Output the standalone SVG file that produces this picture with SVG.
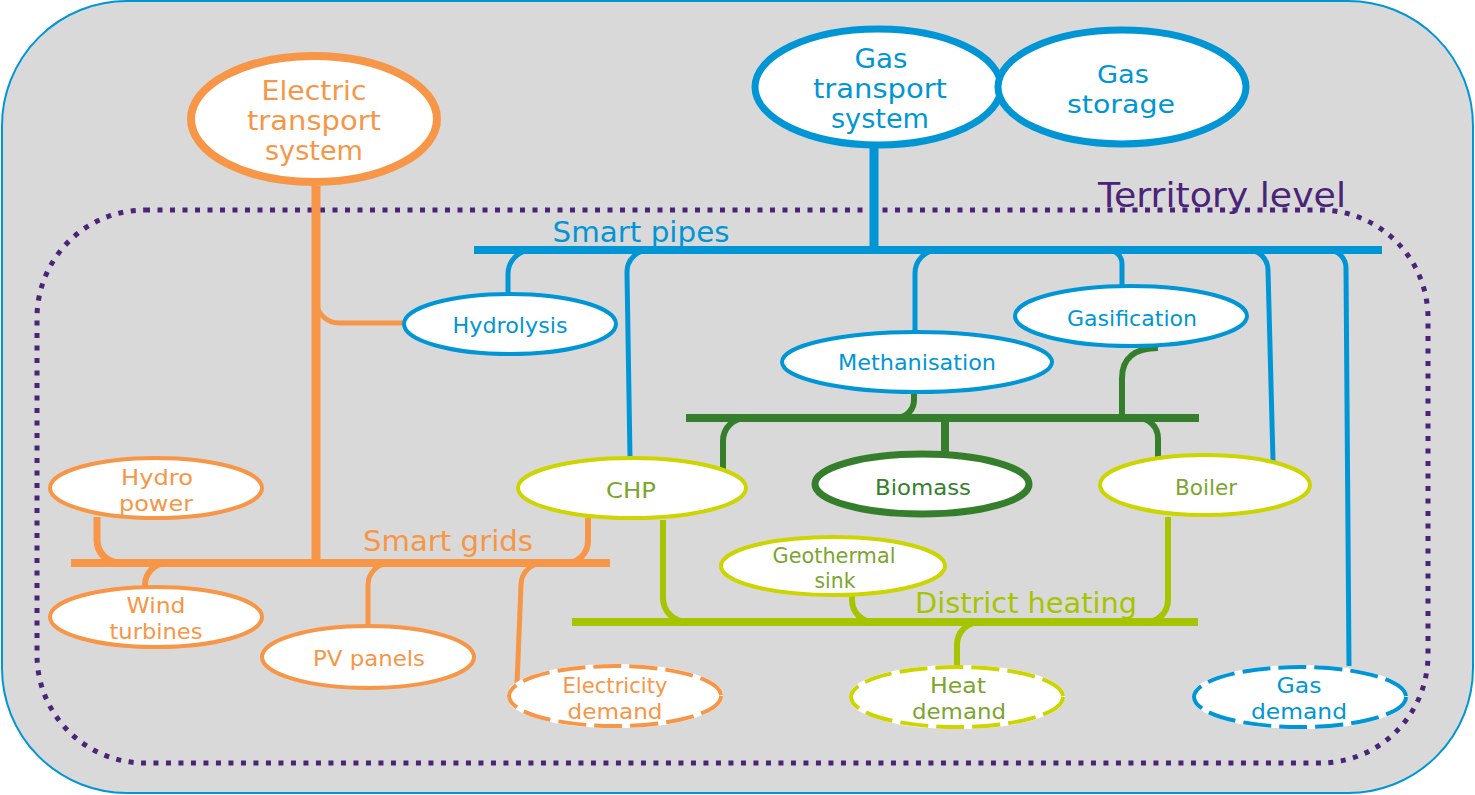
<svg xmlns="http://www.w3.org/2000/svg" width="1475" height="795" viewBox="0 0 1475 795">
<style>
text{font-family:"DejaVu Sans","Liberation Sans",sans-serif;text-anchor:middle;}
.or{fill:#F79646}.bl{fill:#0096D6}.dg{fill:#357F2C}.ol{fill:#7BA52D}.dh{fill:#A6C400}.pu{fill:#4B2479}
.c{fill:none;stroke-linecap:butt;stroke-linejoin:round}
.o{stroke:#F79646}.b{stroke:#0096D6}.g{stroke:#357F2C}.y{stroke:#A6C400}
.n{fill:#fff}
.no{stroke:#F79646;stroke-width:4}
.nb{stroke:#0096D6;stroke-width:4}
.ny{stroke:#CCD500;stroke-width:4}
.ws{fill:#fff;stroke:#fff;stroke-width:4}
.d{fill:none;stroke-width:4;stroke-dasharray:28 8}
</style>
<rect id="frame" x="2" y="1" width="1471" height="792" rx="125" ry="125" fill="#D9D9D9" stroke="#0096D6" stroke-width="2"/>
<g id="territory">
<rect x="37" y="210" width="1391" height="553" rx="108" ry="108" fill="none" stroke="#4B2479" stroke-width="5" stroke-dasharray="5 7.5"/>
<text class="pu" x="1222" y="207" font-size="33" textLength="248" lengthAdjust="spacingAndGlyphs">Territory level</text>
</g>
<g id="connectors">
<path class="c b" stroke-width="9" d="M874 146V250"/>
<path class="c b" stroke-width="8" d="M474 250H1382"/>
<path class="c b" stroke-width="5" d="M532 250A24 24 0 0 0 508 274V294"/>
<path class="c b" stroke-width="5" d="M650 250A22 22 0 0 0 627 273L630 458"/>
<path class="c b" stroke-width="5" d="M938 250A23 23 0 0 0 915 273V331"/>
<path class="c b" stroke-width="5" d="M1108 250A14 14 0 0 1 1122 264V286"/>
<path class="c b" stroke-width="5" d="M1248 250A20 20 0 0 1 1268 270L1273 461"/>
<path class="c b" stroke-width="5" d="M1328 250A18 18 0 0 1 1346 268L1349 666"/>
<path class="c o" stroke-width="9" d="M316 186V563"/>
<path class="c o" stroke-width="5" d="M316 300A23 23 0 0 0 339 323H404"/>
<path class="c o" stroke-width="8" d="M71 563H610"/>
<path class="c o" stroke-width="7" d="M97 517V540A23 23 0 0 0 120 563"/>
<path class="c o" stroke-width="6" d="M167 563A22 22 0 0 0 145 585V588"/>
<path class="c o" stroke-width="5" d="M390 563A22 22 0 0 0 368 585V626"/>
<path class="c o" stroke-width="6" d="M588 518V541A22 22 0 0 1 566 563"/>
<path class="c o" stroke-width="5" d="M543 563A22 22 0 0 0 521 585L517 684"/>
<path class="c g" stroke-width="8" d="M686 418H1199"/>
<path class="c g" stroke-width="6" d="M914 392V400A18 18 0 0 1 896 418"/>
<path class="c g" stroke-width="6" d="M1158 348C1135 348 1122 358 1122 378V418"/>
<path class="c g" stroke-width="8" d="M945 418V453"/>
<path class="c g" stroke-width="6" d="M1138 418A20 20 0 0 1 1158 438V458"/>
<path class="c g" stroke-width="6" d="M746 418A23 23 0 0 0 723 441V471"/>
<path class="c y" stroke-width="8" d="M572 622H1198"/>
<path class="c y" stroke-width="6" d="M663 520V598A24 24 0 0 0 687 622"/>
<path class="c y" stroke-width="6" d="M852 596V600A22 22 0 0 0 874 622"/>
<path class="c y" stroke-width="6" d="M1168 517V600A22 22 0 0 1 1146 622"/>
<path class="c y" stroke-width="6" d="M980 622A23 23 0 0 0 957 645V667"/>
</g>
<g id="electric-transport">
<ellipse class="n" cx="314" cy="119" rx="123" ry="63" stroke="#F79646" stroke-width="8"/>
<text class="or" x="314" y="100" font-size="26" textLength="105" lengthAdjust="spacingAndGlyphs">Electric</text>
<text class="or" x="314" y="130" font-size="26" textLength="134" lengthAdjust="spacingAndGlyphs">transport</text>
<text class="or" x="314" y="160" font-size="26" textLength="98" lengthAdjust="spacingAndGlyphs">system</text>
</g>
<g id="gas-transport">
<ellipse class="n" cx="878" cy="87" rx="123" ry="58" stroke="#0096D6" stroke-width="7"/>
<text class="bl" x="881" y="68" font-size="26" textLength="53" lengthAdjust="spacingAndGlyphs">Gas</text>
<text class="bl" x="880" y="98" font-size="26" textLength="134" lengthAdjust="spacingAndGlyphs">transport</text>
<text class="bl" x="880" y="128" font-size="26" textLength="98" lengthAdjust="spacingAndGlyphs">system</text>
</g>
<g id="gas-storage">
<ellipse class="n" cx="1122" cy="87" rx="124" ry="57" stroke="#0096D6" stroke-width="7"/>
<text class="bl" x="1123" y="83" font-size="25" textLength="52" lengthAdjust="spacingAndGlyphs">Gas</text>
<text class="bl" x="1121" y="113" font-size="25" textLength="108" lengthAdjust="spacingAndGlyphs">storage</text>
</g>
<text class="bl" x="641" y="242" font-size="29" textLength="177" lengthAdjust="spacingAndGlyphs">Smart pipes</text>
<text class="or" x="448" y="551" font-size="29" textLength="170" lengthAdjust="spacingAndGlyphs">Smart grids</text>
<text class="dh" x="1026" y="613" font-size="29" textLength="222" lengthAdjust="spacingAndGlyphs">District heating</text>
<g id="hydrolysis">
<ellipse class="n nb" cx="510" cy="324" rx="106" ry="30"/>
<text class="bl" x="510" y="333" font-size="22" textLength="115" lengthAdjust="spacingAndGlyphs">Hydrolysis</text>
</g>
<g id="methanisation">
<ellipse class="n nb" cx="917" cy="362" rx="135" ry="30"/>
<text class="bl" x="917" y="370" font-size="22" textLength="158" lengthAdjust="spacingAndGlyphs">Methanisation</text>
</g>
<g id="gasification">
<ellipse class="n nb" cx="1131" cy="316" rx="116" ry="30"/>
<text class="bl" x="1132" y="326" font-size="22" textLength="130" lengthAdjust="spacingAndGlyphs">Gasification</text>
</g>
<g id="chp">
<ellipse class="n ny" cx="632" cy="488" rx="114" ry="30"/>
<text class="ol" x="631" y="498" font-size="22" textLength="50" lengthAdjust="spacingAndGlyphs">CHP</text>
</g>
<g id="biomass">
<ellipse class="n" cx="922" cy="484" rx="107" ry="30" stroke="#357F2C" stroke-width="7"/>
<text class="dg" x="923" y="495" font-size="22" textLength="96" lengthAdjust="spacingAndGlyphs">Biomass</text>
</g>
<g id="boiler">
<ellipse class="n ny" cx="1205" cy="485" rx="105" ry="30"/>
<text class="ol" x="1206" y="495" font-size="22" textLength="62" lengthAdjust="spacingAndGlyphs">Boiler</text>
</g>
<g id="hydro-power">
<ellipse class="n no" cx="156" cy="488" rx="106" ry="30"/>
<text class="or" x="157" y="485" font-size="22" textLength="72" lengthAdjust="spacingAndGlyphs">Hydro</text>
<text class="or" x="156" y="511" font-size="22" textLength="74" lengthAdjust="spacingAndGlyphs">power</text>
</g>
<g id="wind-turbines">
<ellipse class="n no" cx="156" cy="617" rx="106" ry="30"/>
<text class="or" x="156" y="613" font-size="22" textLength="59" lengthAdjust="spacingAndGlyphs">Wind</text>
<text class="or" x="156" y="639" font-size="22" textLength="93" lengthAdjust="spacingAndGlyphs">turbines</text>
</g>
<g id="pv-panels">
<ellipse class="n no" cx="368" cy="657" rx="106" ry="31"/>
<text class="or" x="369" y="666" font-size="22" textLength="112" lengthAdjust="spacingAndGlyphs">PV panels</text>
</g>
<g id="geothermal-sink">
<ellipse class="n ny" cx="833" cy="566" rx="112" ry="29"/>
<text class="ol" x="834" y="563" font-size="22" textLength="123" lengthAdjust="spacingAndGlyphs">Geothermal</text>
<text class="ol" x="835" y="588" font-size="22" textLength="41" lengthAdjust="spacingAndGlyphs">sink</text>
</g>
<g id="electricity-demand">
<ellipse class="ws" cx="615" cy="696" rx="106" ry="30"/>
<ellipse class="d o" cx="615" cy="696" rx="106" ry="30"/>
<text class="or" x="615" y="693" font-size="22" textLength="105" lengthAdjust="spacingAndGlyphs">Electricity</text>
<text class="or" x="615" y="719" font-size="22" textLength="95" lengthAdjust="spacingAndGlyphs">demand</text>
</g>
<g id="heat-demand">
<ellipse class="ws" cx="957" cy="697" rx="106" ry="30"/>
<ellipse class="d" stroke="#CCD500" cx="957" cy="697" rx="106" ry="30"/>
<text class="ol" x="958" y="693" font-size="22" textLength="56" lengthAdjust="spacingAndGlyphs">Heat</text>
<text class="ol" x="959" y="719" font-size="22" textLength="94" lengthAdjust="spacingAndGlyphs">demand</text>
</g>
<g id="gas-demand">
<ellipse class="ws" cx="1300" cy="697" rx="106" ry="30"/>
<ellipse class="d b" cx="1300" cy="697" rx="106" ry="30"/>
<text class="bl" x="1299" y="693" font-size="22" textLength="45" lengthAdjust="spacingAndGlyphs">Gas</text>
<text class="bl" x="1299" y="719" font-size="22" textLength="96" lengthAdjust="spacingAndGlyphs">demand</text>
</g>
</svg>
